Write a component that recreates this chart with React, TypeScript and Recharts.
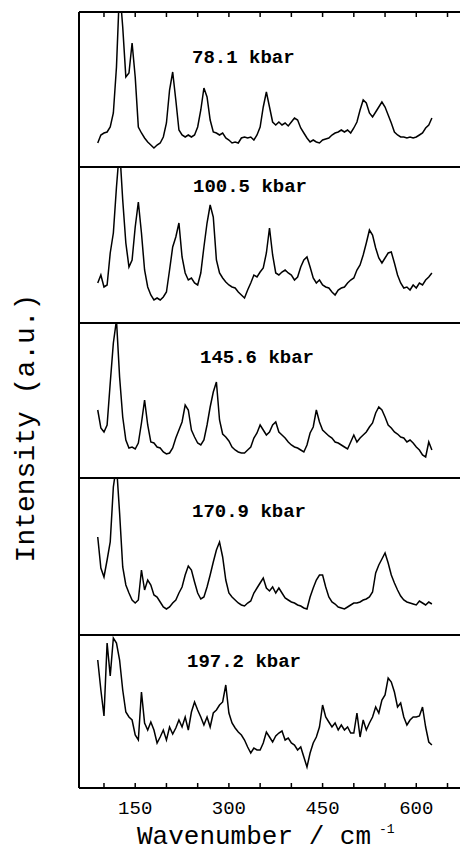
import { Label, Line, LineChart, XAxis, YAxis } from "recharts";

// Raman shift (cm^-1), shared by all five spectra
const wavenumber = [
  90, 95, 100, 105, 110, 115, 120, 125, 130, 135,
  140, 145, 150, 155, 160, 165, 170, 175, 180, 185,
  190, 195, 200, 205, 210, 215, 220, 225, 230, 235,
  240, 245, 250, 255, 260, 265, 270, 275, 280, 285,
  290, 295, 300, 305, 310, 315, 320, 325, 330, 335,
  340, 345, 350, 355, 360, 365, 370, 375, 380, 385,
  390, 395, 400, 405, 410, 415, 420, 425, 430, 435,
  440, 445, 450, 455, 460, 465, 470, 475, 480, 485,
  490, 495, 500, 505, 510, 515, 520, 525, 530, 535,
  540, 545, 550, 555, 560, 565, 570, 575, 580, 585,
  590, 595, 600, 605, 610, 615, 620, 625,
];

// intensities (a.u.)
const kbar78 = [
  24, 32, 34, 35, 40, 54, 100, 180, 140, 90,
  94, 124, 90, 40, 34, 29, 25, 22, 19, 22,
  24, 30, 44, 77, 95, 67, 37, 32, 30, 32,
  30, 32, 40, 57, 79, 70, 47, 35, 34, 32,
  34, 29, 27, 24, 25, 24, 29, 30, 29, 30,
  27, 32, 40, 60, 75, 60, 45, 42, 45, 42,
  44, 41, 45, 49, 47, 39, 34, 29, 25, 27,
  25, 24, 27, 28, 29, 32, 34, 35, 37, 35,
  37, 34, 39, 45, 57, 67, 64, 54, 50, 55,
  60, 65, 60, 52, 44, 35, 32, 30, 30, 29,
  30, 29, 30, 32, 34, 39, 42, 49,
];
const kbar100 = [
  40, 48, 36, 38, 70, 90, 136, 175, 123, 80,
  56, 63, 96, 121, 90, 53, 36, 28, 23, 25,
  23, 26, 31, 53, 76, 86, 100, 66, 50, 43,
  45, 40, 38, 50, 76, 100, 118, 106, 63, 50,
  45, 41, 38, 36, 35, 31, 28, 25, 33, 40,
  48, 46, 51, 55, 70, 95, 68, 50, 48, 51,
  53, 50, 48, 43, 46, 56, 63, 66, 56, 45,
  40, 43, 38, 36, 35, 31, 28, 33, 35, 36,
  40, 43, 45, 53, 58, 68, 80, 93, 88, 75,
  65, 60, 65, 70, 71, 60, 48, 40, 35, 36,
  33, 38, 35, 40, 38, 43, 46, 50,
];
const kbar145 = [
  68, 50, 46, 53, 95, 135, 158, 101, 61, 38,
  30, 31, 29, 35, 55, 78, 53, 36, 35, 31,
  30, 26, 24, 25, 30, 40, 48, 56, 73, 68,
  48, 41, 35, 33, 38, 53, 71, 86, 96, 58,
  44, 41, 37, 31, 28, 26, 25, 25, 28, 31,
  40, 45, 53, 48, 43, 46, 53, 56, 46, 43,
  40, 36, 33, 31, 30, 28, 26, 33, 45, 51,
  68, 56, 48, 45, 42, 40, 36, 35, 33, 31,
  29, 36, 43, 36, 40, 43, 46, 51, 55, 65,
  71, 68, 61, 53, 50, 46, 44, 41, 40, 36,
  38, 35, 31, 28, 23, 21, 36, 28,
];
const kbar170 = [
  98, 67, 58, 75, 93, 148, 170, 122, 68, 50,
  42, 35, 32, 35, 65, 45, 55, 50, 40, 38,
  33, 28, 26, 28, 32, 35, 42, 48, 60, 69,
  65, 53, 42, 36, 38, 48, 60, 73, 85, 93,
  78, 55, 42, 38, 35, 32, 30, 29, 32, 34,
  42, 47, 52, 57, 47, 44, 48, 42, 47, 42,
  37, 35, 33, 32, 30, 29, 27, 26, 38, 47,
  55, 60, 60, 48, 38, 33, 31, 28, 27, 26,
  28, 30, 32, 32, 33, 35, 36, 38, 43, 62,
  70, 76, 82, 72, 60, 52, 45, 39, 35, 33,
  32, 31, 30, 34, 32, 30, 33, 31,
];
const kbar197 = [
  128, 98, 72, 145, 112, 150, 145, 128, 98, 76,
  71, 68, 53, 48, 96, 65, 58, 66, 58, 45,
  51, 58, 48, 61, 54, 60, 68, 61, 71, 58,
  76, 86, 78, 71, 63, 71, 61, 75, 78, 83,
  86, 103, 75, 65, 60, 56, 53, 48, 41, 35,
  40, 38, 38, 45, 56, 51, 46, 52, 55, 57,
  48, 50, 45, 43, 38, 41, 31, 21, 35, 45,
  51, 61, 83, 71, 66, 61, 65, 58, 63, 58,
  61, 55, 55, 75, 51, 68, 58, 65, 71, 81,
  75, 88, 93, 110, 106, 96, 81, 85, 71, 63,
  68, 71, 71, 72, 81, 61, 46, 43,
];

const pressures = ["78.1 kbar", "100.5 kbar", "145.6 kbar", "170.9 kbar", "197.2 kbar"];
const xTicks = [100, 150, 200, 250, 300, 350, 400, 450, 500, 550, 600, 650];
const xTickLabels = [150, 300, 450, 600];

const spectra = [kbar78, kbar100, kbar145, kbar170, kbar197];

const FONT = '"Liberation Mono", "DejaVu Sans Mono", monospace';
const panelTop = [12, 167, 323, 478, 635];
const panelHeight = [155, 156, 155, 157, 153];
const labelPos = [
  { x: 192, y: 58 },
  { x: 193, y: 187 },
  { x: 200, y: 358 },
  { x: 192, y: 512 },
  { x: 187, y: 662 },
];
const frame = { stroke: "#000", strokeWidth: 2 };

function AxisTitle(props: any) {
  const vb = props.viewBox;
  return (
    <text x={vb.x + 58} y={vb.y + 56} fontFamily={FONT} fontSize={26} fill="#000">
      Wavenumber / cm
      <tspan dx={8} dy={-11} fontSize={13}>
        -1
      </tspan>
    </text>
  );
}

function Panel({ index }: { index: number }) {
  const h = panelHeight[index];
  const last = index === spectra.length - 1;
  const data = wavenumber.map((w, i) => ({ w, v: spectra[index][i] }));
  return (
    <div style={{ position: "absolute", left: 0, top: panelTop[index] - 1 }}>
      <LineChart
        width={460}
        height={h + 1 + (last ? 66 : 0)}
        data={data}
        margin={{ top: 0, right: 0, bottom: 0, left: 19 }}
      >
        <XAxis
          xAxisId="top"
          orientation="top"
          dataKey="w"
          type="number"
          domain={[60, 670]}
          ticks={xTicks}
          height={1}
          axisLine={frame}
          tickLine={index === 0 ? { stroke: "#000", strokeWidth: 1.5 } : false}
          tickSize={-5}
          tickFormatter={() => ""}
        />
        <XAxis
          dataKey="w"
          type="number"
          domain={[60, 670]}
          ticks={xTicks}
          hide={!last}
          height={66}
          axisLine={frame}
          tickLine={{ stroke: "#000", strokeWidth: 1.5 }}
          tickSize={-5}
          tickMargin={18}
          tick={{ fill: "#000", fontSize: 19, fontFamily: FONT }}
          tickFormatter={(v: number) => (xTickLabels.includes(v) ? String(v) : "")}
        >
          {last && <Label content={AxisTitle} />}
        </XAxis>
        <YAxis
          domain={[0, h]}
          allowDataOverflow
          width={60}
          tick={false}
          tickLine={false}
          axisLine={frame}
        />
        <Line
          dataKey="v"
          type="linear"
          stroke="#000"
          strokeWidth={1.5}
          dot={false}
          isAnimationActive={false}
        />
      </LineChart>
      <div
        style={{
          position: "absolute",
          left: labelPos[index].x,
          top: labelPos[index].y - panelTop[index] + 1,
          transform: "translateY(-50%)",
          fontFamily: FONT,
          fontSize: 19,
          fontWeight: "bold",
          lineHeight: 1,
          whiteSpace: "nowrap",
        }}
      >
        {pressures[index]}
      </div>
    </div>
  );
}

export default function App() {
  return (
    <div
      style={{
        position: "absolute",
        left: 0,
        top: 0,
        width: 460,
        height: 854,
        overflow: "hidden",
        background: "#fff",
      }}
    >
      {spectra.map((_, i) => (
        <Panel key={i} index={i} />
      ))}
      <div
        style={{
          position: "absolute",
          left: 27,
          top: 428,
          transform: "translate(-50%, -50%) rotate(-90deg)",
          fontFamily: FONT,
          fontSize: 28,
          lineHeight: 1,
          whiteSpace: "nowrap",
        }}
      >
        Intensity (a.u.)
      </div>
    </div>
  );
}
